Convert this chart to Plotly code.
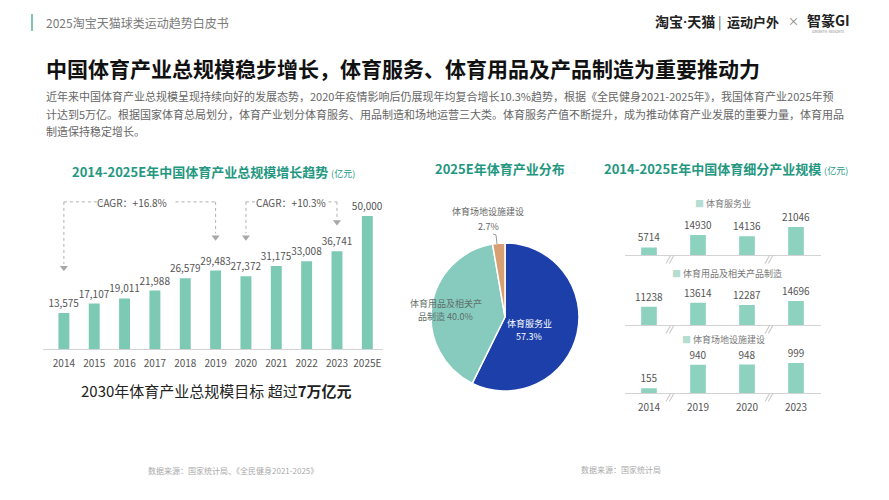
import plotly.graph_objects as go

# ---------------- data ----------------
years_total = ["2014", "2015", "2016", "2017", "2018", "2019", "2020", "2021", "2022", "2023", "2025E"]
total_scale = [13575, 17107, 19011, 21988, 26579, 29483, 27372, 31175, 33008, 36741, 50000]

pie_labels = ["体育服务业", "体育用品及相关产品制造", "体育场地设施建设"]
pie_values = [57.3, 40.0, 2.7]

seg_years = ["2014", "2019", "2020", "2023"]
seg_service = [5714, 14930, 14136, 21046]
seg_goods = [11238, 13614, 12287, 14696]
seg_venue = [155, 940, 948, 999]
seg_names = ["体育服务业", "体育用品及相关产品制造", "体育场地设施建设"]

cagr_texts = ["CAGR：+16.8%", "CAGR：+10.3%"]

# ---------------- helpers ----------------
W, H = 889, 500
def px(x):
    return x / W
def py(y):
    return 1 - y / H

CJK = "Noto Sans CJK SC"
TEAL_T = "#23977f"
BAR = "#7ccab4"
BAR2 = "#8dd2bf"

fig = go.Figure()

# ---------------- left bar chart ----------------
fig.add_trace(go.Bar(
    x=years_total, y=total_scale, xaxis="x", yaxis="y",
    marker=dict(color=BAR, line=dict(width=0)), width=0.36,
    text=[f"{v:,}" for v in total_scale], textposition="outside",
    textfont=dict(size=10, color="#555", family=CJK), constraintext="none",
    cliponaxis=False, showlegend=False, hoverinfo="skip"))

# arrow heads for CAGR connectors
fig.add_trace(go.Scatter(
    x=["2014", "2019", "2020", "2023"], y=[30500, 42000, 42000, 47700],
    xaxis="x", yaxis="y", mode="markers",
    marker=dict(symbol="triangle-down", size=7, color="#a8a8a8"),
    showlegend=False, hoverinfo="skip", cliponaxis=False))

# ---------------- pie ----------------
fig.add_trace(go.Pie(
    labels=pie_labels, values=pie_values, sort=False, direction="clockwise", rotation=0,
    marker=dict(colors=["#1c3faa", "#86cbbd", "#d8a072"], line=dict(color="white", width=1.5)),
    textinfo="none", hoverinfo="label+percent", showlegend=False,
    domain=dict(x=[px(431), px(579)], y=[py(391), py(243)])))

# ---------------- right small multiples ----------------
for i, vals in enumerate([seg_service, seg_goods, seg_venue]):
    n = i + 2
    fig.add_trace(go.Bar(
        x=seg_years, y=vals, xaxis=f"x{n}", yaxis=f"y{n}",
        marker=dict(color=BAR2, line=dict(width=0)), width=0.32,
        text=[str(v) for v in vals], textposition="outside",
        textfont=dict(size=10, color="#555", family=CJK), constraintext="none",
        cliponaxis=False, showlegend=False, hoverinfo="skip"))

# ---------------- layout / axes ----------------
left_dom = [px(42.5), px(382.5)]
right_dom = [px(624.5), px(820.5)]
axis_common = dict(type="category", showgrid=False, zeroline=False, ticks="",
                   showline=True, linecolor="#d3d3d3", linewidth=1,
                   tickfont=dict(size=10, color="#555", family=CJK), fixedrange=True)

layout = dict(
    width=W, height=H, margin=dict(l=0, r=0, t=0, b=0),
    paper_bgcolor="white", plot_bgcolor="rgba(0,0,0,0)",
    font=dict(family=CJK), bargap=0.6,
    xaxis=dict(domain=left_dom, anchor="y", ticklabelstandoff=5, **axis_common),
    yaxis=dict(domain=[py(349), py(189.4)], range=[0, 60000], visible=False, fixedrange=True),
)
# panel baselines and heights (pixels)
panels = [(255, 33800), (325, 27600), (393, 1500)]
for i, (base, top) in enumerate(panels):
    n = i + 2
    layout[f"xaxis{n}"] = dict(domain=right_dom, anchor=f"y{n}",
                               showticklabels=(n == 4), ticklabelstandoff=5, **axis_common)
    layout[f"yaxis{n}"] = dict(domain=[py(base), py(base - 45)], range=[0, top],
                               visible=False, fixedrange=True)
fig.update_layout(**layout)

# ---------------- shapes ----------------
shapes = []
# header accent bar
shapes.append(dict(type="line", xref="paper", yref="paper", x0=px(32), x1=px(32), y0=py(14), y1=py(31),
                   line=dict(color="#7fc6b1", width=2)))
dash = dict(color="#b0b0b0", width=1, dash="dot")
# CAGR 1 connector
shapes += [
    dict(type="line", xref="x", yref="y", x0=0, x1=0, y0=55300, y1=32000, line=dash),
    dict(type="line", xref="x", yref="y", x0=0, x1=1.3, y0=55300, y1=55300, line=dash),
    dict(type="line", xref="x", yref="y", x0=3.68, x1=5, y0=55300, y1=55300, line=dash),
    dict(type="line", xref="x", yref="y", x0=5, x1=5, y0=55300, y1=43500, line=dash),
    # CAGR 2 connector
    dict(type="line", xref="x", yref="y", x0=6, x1=6, y0=55300, y1=43500, line=dash),
    dict(type="line", xref="x", yref="y", x0=6, x1=6.35, y0=55300, y1=55300, line=dash),
    dict(type="line", xref="x", yref="y", x0=8.72, x1=9, y0=55300, y1=55300, line=dash),
    dict(type="line", xref="x", yref="y", x0=9, x1=9, y0=55300, y1=49200, line=dash),
]
# pie leader line for small slice
shapes.append(dict(type="path", xref="paper", yref="paper",
                   path=f"M {px(493)} {py(234)} L {px(496)} {py(235)} L {px(497)} {py(244)}",
                   line=dict(color="#999", width=1)))
fig.update_layout(shapes=shapes)

# ---------------- annotations ----------------
ann = []
def A(x, y, text, size=11, color="#333", xanchor="center", yanchor="middle", **kw):
    ann.append(dict(x=px(x), y=py(y), xref="paper", yref="paper", text=text, showarrow=False,
                    xanchor=xanchor, yanchor=yanchor, font=dict(size=size, color=color, family=CJK), **kw))

# header
A(44, 22, "2025淘宝天猫球类运动趋势白皮书", size=12, color="#7a7a7a", xanchor="left")
A(717, 21, "<b>淘宝<span style='font-family:Roboto'>·</span>天猫</b>", size=14, color="#222", xanchor="right")
A(720, 21, "|", size=13, color="#555")
A(725, 21, "<b>运动户外</b>", size=13, color="#222", xanchor="left")
A(793, 21, "×", size=11, color="#777")
A(828, 20, "<b>智篆GI</b>", size=14, color="#222")
A(828, 31, "GROWTH  INSIGHTS", size=3.5, color="#888")

# main title & intro
A(44, 68, "<b>中国体育产业总规模稳步增长，体育服务、体育用品及产品制造为重要推动力</b>", size=21, color="#111", xanchor="left")
A(44, 96, "近年来中国体育产业总规模呈现持续向好的发展态势，2020年疫情影响后仍展现年均复合增长10.3%趋势，根据《全民健身2021-2025年》，我国体育产业2025年预",
  size=11, color="#666", xanchor="left")
A(44, 114, "计达到5万亿。根据国家体育总局划分，体育产业划分体育服务、用品制造和场地运营三大类。体育服务产值不断提升，成为推动体育产业发展的重要力量，体育用品",
  size=11, color="#666", xanchor="left")
A(44, 131, "制造保持稳定增长。", size=11, color="#666", xanchor="left")

# section titles
A(70, 171, f"<b>2014-2025E年中国体育产业总规模增长趋势</b> <span style='font-size:9px'>(亿元)</span>",
  size=13, color=TEAL_T, xanchor="left")
A(500, 168, "<b>2025E年体育产业分布</b>", size=13, color=TEAL_T)
A(602, 168, f"<b>2014-2025E年中国体育细分产业规模</b> <span style='font-size:9px'>(亿元)</span>",
  size=13, color=TEAL_T, xanchor="left")

# CAGR labels
A(131.5, 202, cagr_texts[0], size=10, color="#555")
A(291, 202, cagr_texts[1], size=10, color="#555")

# 2030 target
A(216, 390, "2030年体育产业总规模目标 超过<b>7万亿元</b>", size=15, color="#222")

# pie labels
A(529, 323, pie_labels[0], size=9, color="white")
A(529, 336, f"{pie_values[0]:.1f}%", size=9, color="white")
A(446, 303, "体育用品及相关产", size=9, color="#5f6f6b")
A(445, 316, f"品制造 {pie_values[1]:.1f}%", size=9, color="#5f6f6b")
A(488, 212, pie_labels[2], size=9, color="#666")
A(488, 227, f"{pie_values[2]:.1f}%", size=9, color="#666")

# small multiple legends
for name, (x, y) in zip(seg_names, [(723, 203), (727, 273), (723, 339)]):
    A(x, y, f"<span style='color:#b5ddd2'>■</span> {name}", size=9, color="#777")

# axis break marks
for n in (2, 3, 4):
    for xv in (0.42, 2.44):
        ann.append(dict(x=xv, y=0, xref=f"x{n}", yref=f"y{n}", text="<i>//</i>", showarrow=False,
                        yanchor="middle", yshift=-3, font=dict(size=8, color="#888", family=CJK)))

# sources
A(233, 470, "数据来源：国家统计局、《全民健身2021-2025》", size=8, color="#aaa")
A(621, 469, "数据来源：国家统计局", size=8, color="#aaa")

fig.update_layout(annotations=ann)

fig.write_html("out.html")
